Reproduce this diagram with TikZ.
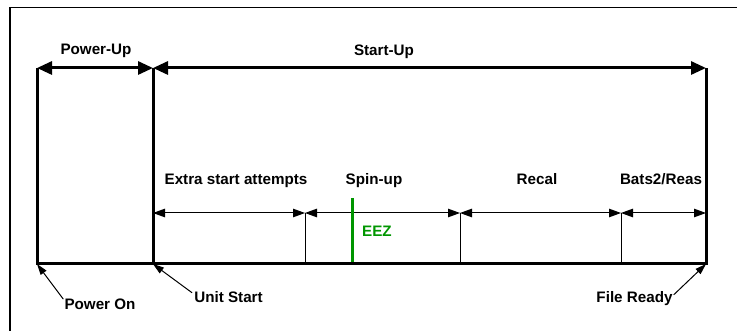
\documentclass[tikz,border=0pt]{standalone}
\usepackage{fontspec}
\setmainfont{Liberation Sans}
\usetikzlibrary{arrows.meta}
\definecolor{eezgreen}{RGB}{0,150,0}
\tikzset{
  thickline/.style={line width=3pt, line cap=butt},
  bigarrow/.style={line width=3pt, {Triangle[length=15pt,width=13pt]}-{Triangle[length=15pt,width=13pt]}},
  dimline/.style={line width=1pt, {Triangle[length=12pt,width=8.5pt]}-{Triangle[length=12pt,width=8.5pt]}},
  dimtick/.style={line width=1pt},
  callout/.style={line width=1pt, -{Triangle[length=11pt,width=7pt]}},
  lbl/.style={font=\fontsize{15.2}{18}\selectfont\bfseries, inner sep=0pt, anchor=base},
  framebox/.style={line width=1.3pt}
}
\begin{document}
\begin{tikzpicture}[x=1pt,y=-1pt]
\clip (0,0) rectangle (737,331);
% outer frame (continues past the right and bottom edges)
\draw[framebox] (10,345) -- (10,7.3) -- (750,7.3);
% key points
\coordinate (POt) at (37,68);
\coordinate (USt) at (153,68);
\coordinate (FRt) at (706,68);
\coordinate (PO) at (37,264);
\coordinate (US) at (153,264);
\coordinate (FR) at (706,264);
\coordinate (d0) at (153,213);
\coordinate (d1) at (305,213);
\coordinate (d2) at (460,213);
\coordinate (d3) at (621,213);
\coordinate (d4) at (706,213);
\coordinate (b1) at (305,264);
\coordinate (b2) at (460,264);
\coordinate (b3) at (621,264);
\coordinate (g1) at (352,198);
\coordinate (g2) at (352,262);
% thick outline
\draw[thickline] (POt) -- (PO) -- (FR) -- (FRt);
\draw[thickline] (USt) -- (US);
% top arrows
\draw[bigarrow] (POt) -- (USt);
\draw[bigarrow] (USt) -- (FRt);
% thin ticks
\draw[dimtick] (d1) -- (b1);
\draw[dimtick] (d2) -- (b2);
\draw[dimtick] (d3) -- (b3);
% dimension arrows
\draw[dimline] (d0) -- (d1);
\draw[dimline] (d1) -- (d2);
\draw[dimline] (d2) -- (d3);
\draw[dimline] (d3) -- (d4);
% green EEZ line
\draw[eezgreen, line width=3pt] (g1) -- (g2);
\node[lbl, text=eezgreen] (eez) at (377,237) {EEZ};
% labels
\node[lbl] (pu) at (96,55) {Power-Up};
\node[lbl] (su) at (384,56) {Start-Up};
\node[lbl] (esa) at (236,184.5) {Extra start attempts};
\node[lbl] (spin) at (374,184.5) {Spin-up};
\node[lbl] (recal) at (537,184.5) {Recal};
\node[lbl] (bats) at (661,184.5) {Bats2/Reas};
\node[lbl] (pon) at (100,310) {Power On};
\node[lbl] (ust) at (228.5,303) {Unit Start};
\node[lbl] (fry) at (634.5,303) {File Ready};
% callouts
\draw[callout] (pon.north west) ++(-1,0) -- (PO);
\draw[callout] (ust.north west) ++(-2,1) -- (US);
\draw[callout] (fry.north east) ++(1,3) -- (FR);
\end{tikzpicture}
\end{document}
